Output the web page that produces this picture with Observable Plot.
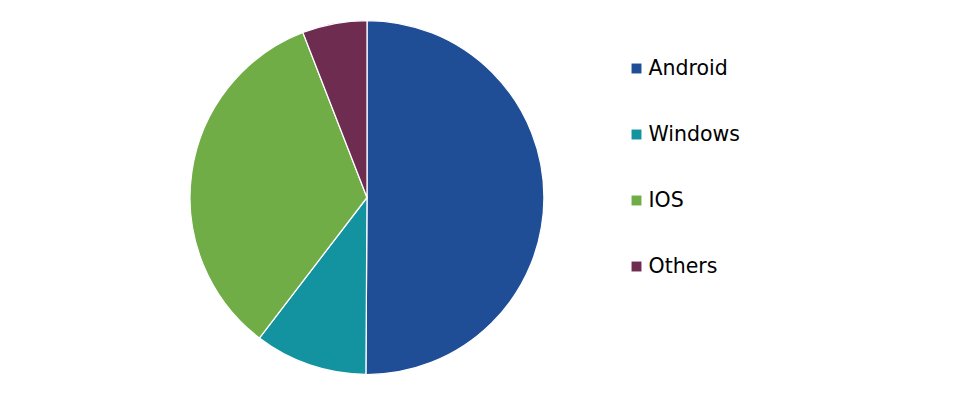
<!DOCTYPE html>
<html>
<head>
<meta charset="utf-8">
<script src="https://cdn.jsdelivr.net/npm/d3@7"></script>
<script src="https://cdn.jsdelivr.net/npm/@observablehq/plot@0.6"></script>
<style>
  html, body { margin: 0; padding: 0; background: #fff; }
  svg { font-family: "DejaVu Sans", Verdana, sans-serif; }
</style>
</head>
<body>
<div id="chart"></div>
<script>
const names = ["Android", "Windows", "IOS", "Others"];
const shares = [50.1, 10.3, 33.7, 5.9];
const colors = ["#1f4e96", "#13939f", "#70ad47", "#6e2c51"];

const data = names.map((name, i) => ({name, share: shares[i]}));

// pie rendered as a custom mark using Plot's color scale and x/y scales (pixel-identity)
function pieMark(index, scales, values, dimensions, context) {
  const cx = scales.x(367), cy = scales.y(197.5);
  const r = scales.x(367 + 177) - cx;
  const arcs = d3.pie().sort(null).value(d => d.share)(data);
  const arc = d3.arc().innerRadius(0).outerRadius(r);
  const g = d3.create("svg:g").attr("transform", `translate(${cx},${cy})`);
  g.selectAll("path").data(arcs).join("path")
    .attr("d", arc)
    .attr("fill", d => scales.color(d.data.name))
    .attr("stroke", "#ffffff")
    .attr("stroke-width", 1.25)
    .attr("stroke-linejoin", "round");
  return g.node();
}

const chart = Plot.plot({
  width: 968,
  height: 400,
  margin: 0,
  x: {type: "linear", domain: [0, 968], range: [0, 968], axis: null},
  y: {type: "linear", domain: [0, 400], range: [0, 400], axis: null},
  color: {domain: names, range: colors},
  marks: [
    pieMark,
    Plot.dot(data, {
      x: 636,
      y: (d, i) => 68 + i * 66,
      symbol: "square",
      r: 5.6,
      fill: "name",
      stroke: null
    }),
    Plot.text(data, {
      x: 648,
      y: (d, i) => 68 + i * 66,
      text: "name",
      textAnchor: "start",
      lineAnchor: "middle",
      fontSize: 20.5,
      fill: "#000000",
      fontFamily: "DejaVu Sans, Verdana, sans-serif"
    })
  ]
});

document.getElementById("chart").appendChild(chart);
</script>
</body>
</html>
